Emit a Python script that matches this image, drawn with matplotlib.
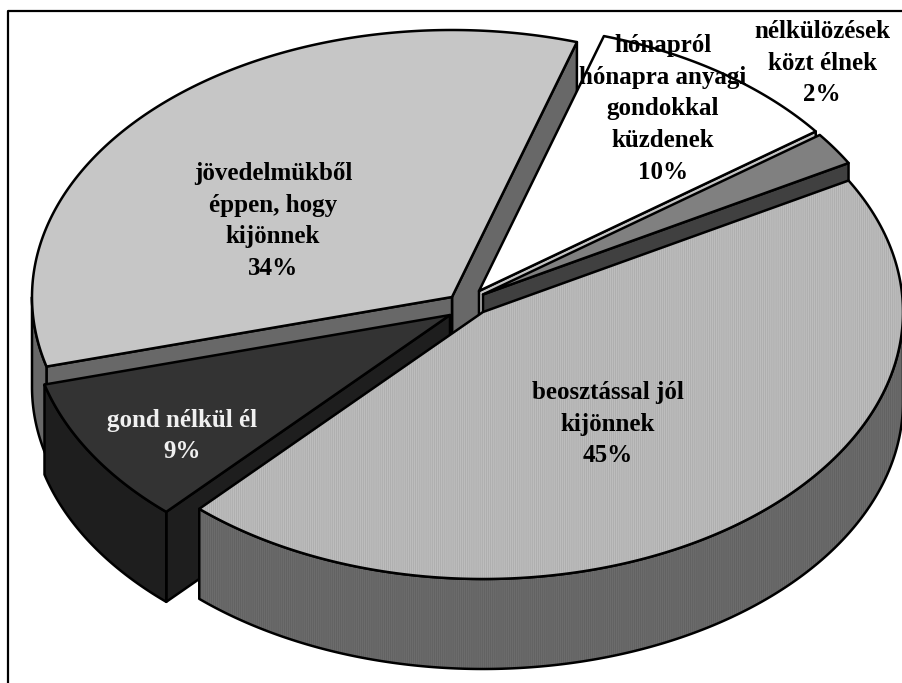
import numpy as np
from matplotlib import pyplot as plt

categories = [
    "beosztással jól\nkijönnek",
    "nélkülözések\nközt élnek",
    "hónapról\nhónapra anyagi\ngondokkal\nküzdenek",
    "jövedelmükből\néppen, hogy\nkijönnek",
    "gond nélkül él",
]
values = [45, 2, 10, 34, 9]

# layout, in pixels of the picture
apex_x = [483, 483, 479, 452, 450]
apex_y = [312, 294.5, 291, 297, 315]
label_x = [608, 822, 663, 273, 182]
label_y = [424, 63, 109, 221, 436]
start_angle = -132.5
rx, ry, depth = 420, 267, 90

top_colors = ["#bdbdbd", "#808080", "#ffffff", "#c6c6c6", "#333333"]
wall_colors = ["#6c6c6c", "#404040", "#c4c4c4", "#686868", "#1e1e1e"]
text_colors = ["black", "black", "black", "black", "#f0f0f0"]
hatch_slice = 0
draw_order = [3, 4, 2, 1, 0]

plt.rcParams["hatch.linewidth"] = 0.5

fig = plt.figure(figsize=(9.02, 6.83), dpi=100)
ax = fig.add_axes([0, 0, 1, 1])
ax.set_xlim(0, 902)
ax.set_ylim(683, 0)
ax.axis("off")

ax.plot([8, 8, 902], [683, 11, 11], color="black", lw=1.6, zorder=1)


def arc(i, a0, a1):
    t = np.radians(np.linspace(a0, a1, max(int(abs(a1 - a0) * 2), 2)))
    return apex_x[i] + rx * np.cos(t), apex_y[i] - ry * np.sin(t)


def shape(xs, ys, fill, hatch_color=None):
    if hatch_color:
        ax.fill(xs, ys, facecolor=fill, edgecolor=hatch_color, hatch="||||||||", lw=0)
        ax.fill(xs, ys, fill=False, edgecolor="black", lw=1.8, joinstyle="round")
    else:
        ax.fill(xs, ys, facecolor=fill, edgecolor="black", lw=1.8, joinstyle="round")


edges = start_angle + np.concatenate([[0], np.cumsum(values)]) * 3.6

for i in draw_order:
    a0, a1 = edges[i], edges[i + 1]
    x, y = apex_x[i], apex_y[i]
    stripes = i == hatch_slice

    # cut faces, only those turned to the viewer
    for a, seen in ((a0, np.cos(np.radians(a0)) > 0), (a1, np.cos(np.radians(a1)) < 0)):
        if seen:
            tx, ty = arc(i, a, a + 0.01)
            tx, ty = tx[0], ty[0]
            shape([x, tx, tx, x], [y, ty, ty + depth, y + depth], wall_colors[i],
                  "#5e5e5e" if stripes else None)

    # outer face, same idea
    for w0, w1 in ((a0, min(a1, 0)), (max(a0, 180), min(a1, 360))):
        if w1 > w0:
            ox, oy = arc(i, w0, w1)
            shape(np.r_[ox, ox[::-1]], np.r_[oy, oy[::-1] + depth], wall_colors[i],
                  "#5e5e5e" if stripes else None)

    # top face
    ox, oy = arc(i, a0, a1)
    shape(np.r_[x, ox], np.r_[y, oy], top_colors[i], "#aaaaaa" if stripes else None)

for i, name in enumerate(categories):
    ax.text(label_x[i], label_y[i], f"{name}\n{values[i]}%", color=text_colors[i],
            ha="center", va="center", ma="center", linespacing=1.48,
            family="Liberation Serif", weight="bold", fontsize=18, zorder=10)

plt.savefig("out.png", dpi=100)
